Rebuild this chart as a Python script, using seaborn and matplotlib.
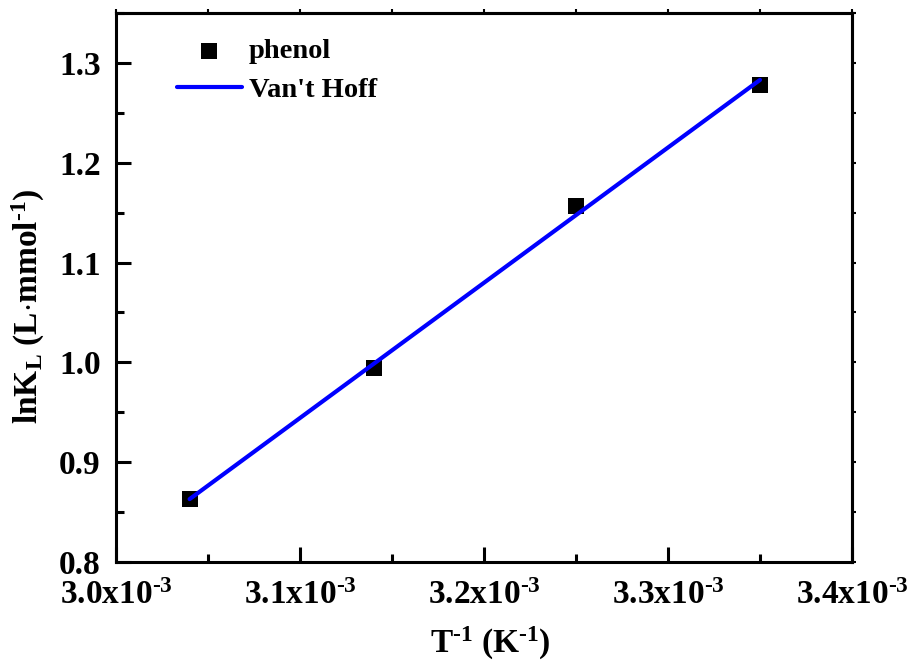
import numpy as np
import pandas as pd
import matplotlib
matplotlib.use("Agg")
import matplotlib.pyplot as plt
from matplotlib.ticker import MultipleLocator, FuncFormatter
import seaborn as sns

# Inverse temperature (1/K) and ln K_L for phenol adsorption
inv_T = [3.04e-3, 3.14e-3, 3.25e-3, 3.35e-3]
ln_KL = [0.863, 0.994, 1.157, 1.278]

x_ticks = [3.0e-3, 3.1e-3, 3.2e-3, 3.3e-3, 3.4e-3]
y_ticks = [0.8, 0.9, 1.0, 1.1, 1.2, 1.3]

sns.set_theme(style="ticks")
plt.rcParams["font.family"] = ["Liberation Serif", "DejaVu Serif"]
plt.rcParams["font.weight"] = "bold"
plt.rcParams["text.color"] = "black"
plt.rcParams["axes.labelcolor"] = "black"
plt.rcParams["xtick.color"] = "black"
plt.rcParams["ytick.color"] = "black"
plt.rcParams["mathtext.fontset"] = "custom"
plt.rcParams["mathtext.rm"] = "Liberation Serif:bold"
plt.rcParams["mathtext.bf"] = "Liberation Serif:bold"
plt.rcParams["mathtext.it"] = "Liberation Serif:bold"

df = pd.DataFrame({"inv_T": inv_T, "ln_KL": ln_KL})

# Van't Hoff linear fit
slope, intercept = np.polyfit(df["inv_T"], df["ln_KL"], 1)
fit = pd.DataFrame({"inv_T": [min(inv_T), max(inv_T)]})
fit["ln_KL"] = slope * fit["inv_T"] + intercept

fig = plt.figure(figsize=(9.12, 6.64), dpi=100)
ax = fig.add_axes([0.1272, 0.1536, 0.8070, 0.8268])

sns.scatterplot(data=df, x="inv_T", y="ln_KL", marker="s", s=135,
                color="black", edgecolor="black", linewidth=0, ax=ax,
                label="phenol", zorder=2)
sns.lineplot(data=fit, x="inv_T", y="ln_KL", color="#0000ff", lw=3,
             ax=ax, label="Van't Hoff", zorder=3)

ax.set_xlim(3.0e-3, 3.4e-3)
ax.set_ylim(0.8, 1.35)
ax.set_xticks(x_ticks)
ax.set_yticks(y_ticks)
ax.xaxis.set_minor_locator(MultipleLocator(0.05e-3))
ax.yaxis.set_minor_locator(MultipleLocator(0.05))

def sci_fmt(v, pos):
    return r"%.1fx10$^{\text{-3}}$" % (v * 1e3)

ax.xaxis.set_major_formatter(FuncFormatter(sci_fmt))
ax.yaxis.set_major_formatter(FuncFormatter(lambda v, p: "%.1f" % v))

for sp in ax.spines.values():
    sp.set_linewidth(2.2)
    sp.set_color("black")

ax.tick_params(which="major", direction="in", length=11, width=2.2,
               labelsize=24, colors="black")
ax.tick_params(which="minor", direction="in", length=6, width=2.2)
ax.tick_params(axis="x", which="major", pad=13)
ax.tick_params(axis="y", which="major", pad=11)
for lab in ax.get_xticklabels() + ax.get_yticklabels():
    lab.set_fontweight("bold")

# Small outward ticks on the top and right frame
top = ax.secondary_xaxis("top")
top.set_xticks(x_ticks)
top.xaxis.set_minor_locator(MultipleLocator(0.05e-3))
top.tick_params(which="both", direction="out", length=3, width=1.5, labeltop=False)
top.spines["top"].set_linewidth(2.2)
right = ax.secondary_yaxis("right")
right.set_yticks(y_ticks)
right.yaxis.set_minor_locator(MultipleLocator(0.05))
right.tick_params(which="both", direction="out", length=3, width=1.5, labelright=False)
right.spines["right"].set_linewidth(2.2)

ax.set_xlabel(r"T$^{\text{-1}}$ (K$^{\text{-1}}$)", fontsize=24, fontweight="bold")
ax.xaxis.set_label_coords(0.508, -0.115)
ax.set_ylabel(r"lnK$_{\rm L}$ (L$\cdot$mmol$^{\text{-1}}$)", fontsize=24,
              fontweight="bold")
ax.yaxis.set_label_coords(-0.094, 0.466)

leg = ax.legend(loc="upper left", bbox_to_anchor=(0.068, 0.975), frameon=False,
                prop={"family": "Liberation Serif", "weight": "bold", "size": 20.5},
                handlelength=2.25, handletextpad=0.25, labelspacing=0.45,
                borderaxespad=0)

fig.savefig("out.png", dpi=100)
